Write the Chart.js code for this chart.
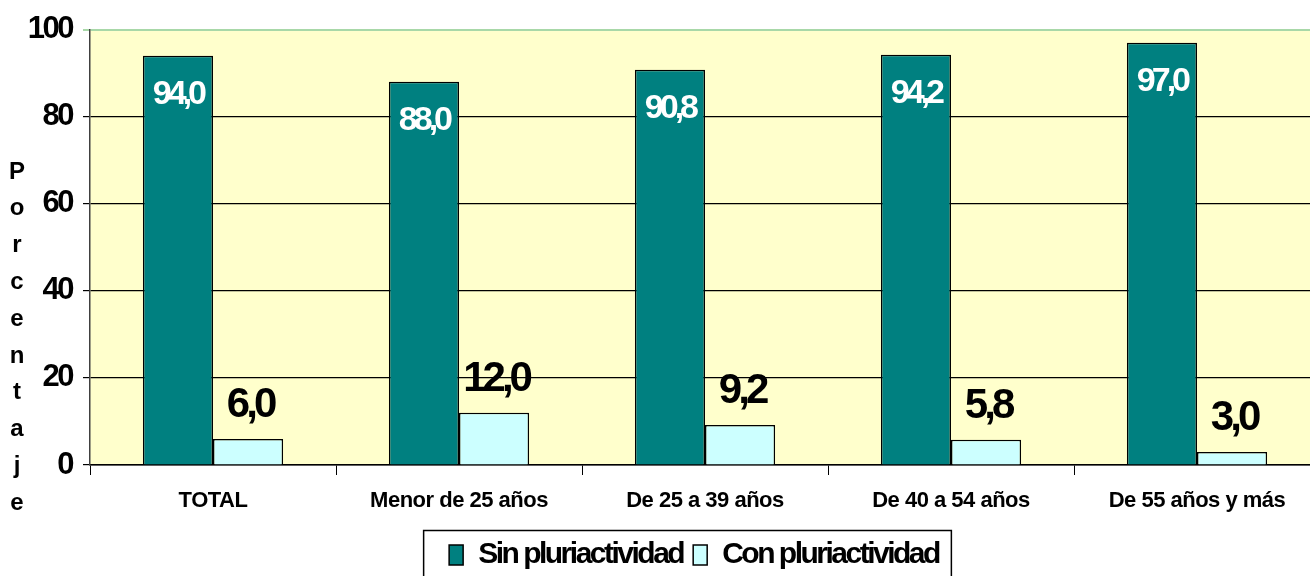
<!DOCTYPE html>
<html>
<head>
<meta charset="utf-8">
<script src="https://cdn.jsdelivr.net/npm/chart.js@4"></script>
<style>
  html, body { margin: 0; padding: 0; background: #fff; overflow: hidden; }
  #wrap { width: 1320px; height: 576px; }
</style>
</head>
<body>
<div id="wrap"><canvas id="myChart"></canvas></div>
<script>
const categorias = ['TOTAL', 'Menor de 25 años', 'De 25 a 39 años', 'De 40 a 54 años', 'De 55 años y más'];
const sinPluri = [94.0, 88.0, 90.8, 94.2, 97.0];
const conPluri = [6.0, 12.0, 9.2, 5.8, 3.0];
const yTicks = [0, 20, 40, 60, 80, 100];
const tituloY = 'Porcentaje';

const FONT = "'Liberation Sans', Arial, sans-serif";

// letter spacing for a layout box (fit + draw), optional x shift
function spaced(box, sp, dx) {
    if (!box || box._spaced) return;
    const fit = box.fit.bind(box);
    const draw = box.draw.bind(box);
    box.fit = function () {
        const c = this.ctx, prev = c.letterSpacing;
        c.letterSpacing = sp;
        const r = fit.apply(null, arguments);
        c.letterSpacing = prev;
        return r;
    };
    box.draw = function (area) {
        const c = this.ctx, prev = c.letterSpacing;
        c.save();
        c.letterSpacing = sp;
        c.translate(dx || 0, 0);
        draw(area);
        c.restore();
        c.letterSpacing = prev;
    };
    box._spaced = true;
}

const LEGEND_DX = 34;

const estilo = {
    id: 'estilo',
    beforeLayout(chart) {
        spaced(chart.scales.y, '-2.5px');
        spaced(chart.scales.x, '-0.5px');
        spaced(chart.legend, '-2.5px', LEGEND_DX);
    },
    beforeDraw(chart) {
        const {ctx, chartArea: a} = chart;
        ctx.save();
        ctx.fillStyle = '#ffffcc';
        ctx.fillRect(a.left, a.top, a.right - a.left, a.bottom - a.top);
        ctx.restore();
    },
    afterDatasetsDraw(chart) {
        const ctx = chart.ctx;
        chart.data.datasets.forEach((ds, i) => {
            chart.getDatasetMeta(i).data.forEach((bar, j) => {
                const txt = ds.data[j].toFixed(1).replace('.', ',');
                ctx.save();
                ctx.textAlign = 'center';
                ctx.textBaseline = 'alphabetic';
                ctx.letterSpacing = '-4px';
                if (i === 0) {
                    ctx.font = 'bold 34px ' + FONT;
                    ctx.fillStyle = '#ffffff';
                    ctx.fillText(txt, bar.x, bar.y + 48);
                } else {
                    ctx.font = 'bold 42px ' + FONT;
                    ctx.fillStyle = '#000000';
                    ctx.fillText(txt, bar.x + 2, bar.y - 22);
                }
                ctx.restore();
            });
        });
    },
    afterDraw(chart) {
        const ctx = chart.ctx;
        // vertical stacked axis title
        ctx.save();
        ctx.font = 'bold 24px ' + FONT;
        ctx.fillStyle = '#000';
        ctx.textAlign = 'center';
        ctx.textBaseline = 'middle';
        tituloY.split('').forEach((ch, k) => {
            ctx.fillText(ch, 17, 172 + k * 36.8);
        });
        ctx.restore();
        // legend frame
        const lg = chart.legend;
        const hb = lg.legendHitBoxes;
        if (hb && hb.length) {
            const first = hb[0], last = hb[hb.length - 1];
            const left = first.left + LEGEND_DX - 26;
            const right = last.left + last.width + LEGEND_DX + 12;
            ctx.save();
            ctx.strokeStyle = '#000';
            ctx.lineWidth = 1.5;
            ctx.strokeRect(left + 0.5, lg.top + 0.5, right - left, chart.height);
            ctx.restore();
        }
    }
};

new Chart(document.getElementById('myChart'), {
    type: 'bar',
    data: {
        labels: categorias,
        datasets: [{
            label: 'Sin pluriactividad',
            data: sinPluri,
            backgroundColor: '#008080',
            borderColor: '#000000',
            borderWidth: 1.5,
            categoryPercentage: 0.57,
            barPercentage: 1.0
        }, {
            label: 'Con pluriactividad',
            data: conPluri,
            backgroundColor: '#ccffff',
            borderColor: '#000000',
            borderWidth: 1.5,
            categoryPercentage: 0.57,
            barPercentage: 1.0
        }]
    },
    options: {
        responsive: true,
        maintainAspectRatio: false,
        animation: false,
        events: [],
        layout: { padding: { top: 28, left: 0, right: 0, bottom: -4 } },
        scales: {
            x: {
                afterFit: s => { s.height = 65; },
                grid: {
                    offset: true,
                    drawOnChartArea: false,
                    tickLength: 10,
                    color: '#000',
                    lineWidth: 1
                },
                border: { color: '#000', width: 1.5 },
                ticks: {
                    color: '#000',
                    padding: 13,
                    maxRotation: 0,
                    autoSkip: false,
                    font: { family: FONT, size: 22, weight: 'bold' }
                }
            },
            y: {
                min: 0,
                max: 100,
                afterFit: s => { s.width = 90; },
                afterBuildTicks: s => { s.ticks = yTicks.map(v => ({ value: v })); },
                grid: {
                    color: c => (c.tick && c.tick.value === 100 ? '#a8d8a8' : '#000'),
                    lineWidth: c => (c.tick && c.tick.value === 100 ? 2 : 1.2),
                    tickLength: 7
                },
                border: { color: '#404040', width: 1.5 },
                ticks: {
                    color: '#000',
                    padding: 11,
                    font: { family: FONT, size: 31, weight: 'bold' }
                }
            }
        },
        plugins: {
            legend: {
                position: 'bottom',
                labels: {
                    color: '#000',
                    boxWidth: 14,
                    boxHeight: 20,
                    padding: 10,
                    font: { family: FONT, size: 30, weight: 'bold' }
                }
            },
            tooltip: { enabled: false }
        }
    },
    plugins: [estilo]
});
</script>
</body>
</html>
